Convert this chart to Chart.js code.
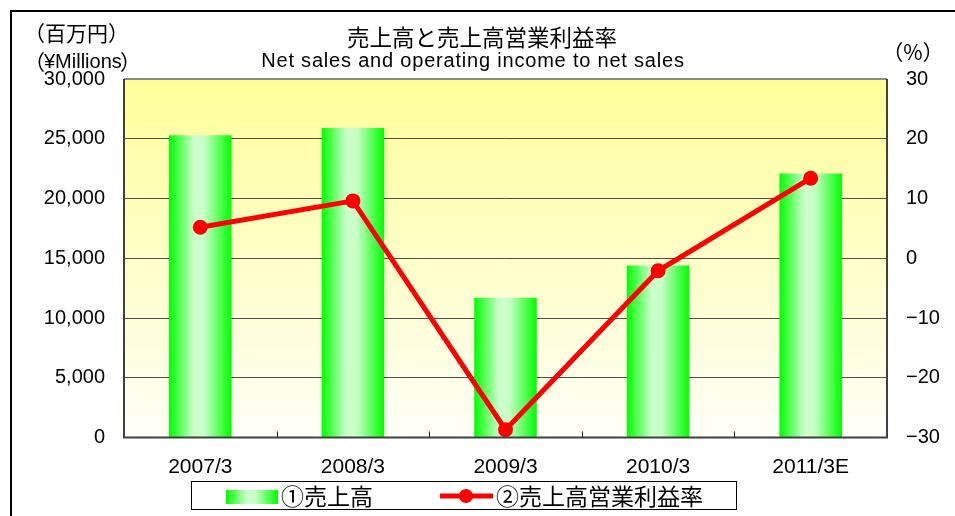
<!DOCTYPE html>
<html lang="ja">
<head>
<meta charset="utf-8">
<title>売上高と売上高営業利益率</title>
<script src="https://cdn.jsdelivr.net/npm/chart.js@4.4.1/dist/chart.umd.min.js"></script>
<style>
  html, body { margin: 0; padding: 0; background: #fff; }
  #wrap { width: 955px; height: 516px; }
</style>
</head>
<body>
<div id="wrap"><canvas id="chart" width="955" height="516"></canvas></div>
<script>
/* 売上高と売上高営業利益率 (2007/3〜2011/3E) */
const categories = ["2007/3", "2008/3", "2009/3", "2010/3", "2011/3E"];
const netSales = [25300, 25900, 11700, 14400, 22100];        // 百万円
const operatingMargin = [5.2, 9.6, -28.7, -2.1, 13.4];      // %
const salesTicks = [0, 5000, 10000, 15000, 20000, 25000, 30000];
const marginTicks = [-30, -20, -10, 0, 10, 20, 30];

const LATIN = "'Liberation Sans', Arial, sans-serif";
const CJK = "'Noto Sans CJK JP', 'Liberation Sans', sans-serif";
const barShare = 0.41;

// 棒は左右が濃い緑、中央が淡い緑の横グラデーション
function greenGradient(ctx, x0, x1) {
  const g = ctx.createLinearGradient(x0, 0, x1, 0);
  g.addColorStop(0, "#00ff00");
  g.addColorStop(0.4, "#ccffcc");
  g.addColorStop(0.56, "#c8ffc8");
  g.addColorStop(1, "#00ff00");
  return g;
}

function barFill(c) {
  const chart = c.chart;
  const xs = chart.scales.x;
  if (!chart.chartArea || !xs || c.dataIndex == null) return "#00ff00";
  const cx = xs.getPixelForValue(c.dataIndex);
  const half = (xs.width / categories.length) * barShare / 2;
  return greenGradient(chart.ctx, cx - half, cx + half);
}

function minusSign(v) {
  return v < 0 ? "\u2212" + Math.abs(v) : String(v);
}

const decor = {
  id: "decor",
  beforeDraw(chart) {
    const { ctx, chartArea: a } = chart;
    const g = ctx.createLinearGradient(0, a.top, 0, a.bottom);
    g.addColorStop(0, "#ffff99");
    g.addColorStop(1, "#fffff8");
    ctx.save();
    ctx.fillStyle = g;
    ctx.fillRect(a.left, a.top, a.right - a.left, a.bottom - a.top);
    ctx.restore();
  },
  afterDraw(chart) {
    const { ctx, chartArea: a } = chart;
    const xs = chart.scales.x;
    ctx.save();

    // plot border
    ctx.lineWidth = 2;
    ctx.strokeStyle = "#8a8a8a";
    ctx.beginPath();
    ctx.moveTo(a.left, a.top);
    ctx.lineTo(a.right, a.top);
    ctx.stroke();
    ctx.strokeStyle = "#404040";
    ctx.beginPath();
    ctx.moveTo(a.left, a.top);
    ctx.lineTo(a.left, a.bottom);
    ctx.lineTo(a.right, a.bottom);
    ctx.lineTo(a.right, a.top);
    ctx.stroke();

    // category separators (inner ticks on x axis)
    ctx.lineWidth = 1;
    ctx.strokeStyle = "#222";
    for (let i = 1; i < categories.length; i++) {
      const x = Math.round((xs.getPixelForValue(i - 1) + xs.getPixelForValue(i)) / 2) + 0.5;
      ctx.beginPath();
      ctx.moveTo(x, a.bottom);
      ctx.lineTo(x, a.bottom - 6);
      ctx.stroke();
    }

    // titles
    ctx.fillStyle = "#000";
    ctx.textBaseline = "middle";
    ctx.textAlign = "center";
    ctx.font = "22.5px " + CJK;
    ctx.fillText("売上高と売上高営業利益率", 482, 37);
    ctx.font = "20px " + LATIN;
    ctx.letterSpacing = "0.8px";
    ctx.fillText("Net sales and operating income to net sales", 473, 61);
    ctx.letterSpacing = "0px";

    // axis units
    ctx.textAlign = "left";
    ctx.font = "21px " + CJK;
    ctx.fillText("（百万円）", 24, 33);
    ctx.fillText("（", 24, 62);
    ctx.fillText("）", 120, 62);
    ctx.font = "20px " + LATIN;
    ctx.fillText("¥Millions", 44, 62);
    ctx.font = "21px " + CJK;
    ctx.textAlign = "center";
    ctx.fillText("（%）", 913, 52);

    // legend
    ctx.lineWidth = 1;
    ctx.strokeStyle = "#000";
    ctx.strokeRect(191.5, 481.5, 545, 28);
    ctx.fillStyle = greenGradient(ctx, 226, 278);
    ctx.fillRect(226, 490, 52, 14);
    ctx.fillStyle = "#000";
    ctx.textAlign = "left";
    ctx.font = "23px " + CJK;
    ctx.fillText(chart.data.datasets[0].label, 281, 496);
    ctx.strokeStyle = "#ff0000";
    ctx.lineWidth = 5;
    ctx.beginPath();
    ctx.moveTo(440, 496);
    ctx.lineTo(493, 496);
    ctx.stroke();
    ctx.fillStyle = "#ff0000";
    ctx.beginPath();
    ctx.arc(466, 496, 7, 0, Math.PI * 2);
    ctx.fill();
    ctx.fillStyle = "#000";
    ctx.fillText(chart.data.datasets[1].label, 496, 496);

    // outer frame
    ctx.lineWidth = 2;
    ctx.strokeStyle = "#000";
    ctx.strokeRect(11, 11, 1000, 1000);
    ctx.restore();
  }
};

new Chart(document.getElementById("chart"), {
  data: {
    labels: categories,
    datasets: [
      {
        type: "bar",
        label: "①売上高",
        data: netSales,
        yAxisID: "y",
        backgroundColor: barFill,
        borderWidth: 0,
        barPercentage: barShare,
        categoryPercentage: 1,
        order: 1,
      },
      {
        type: "line",
        label: "②売上高営業利益率",
        data: operatingMargin,
        yAxisID: "y1",
        borderColor: "#ff0000",
        backgroundColor: "#ff0000",
        borderWidth: 5,
        pointRadius: 7.5,
        pointHoverRadius: 7.5,
        pointBorderWidth: 0,
        tension: 0,
        clip: false,
        order: 0,
      },
    ],
  },
  options: {
    responsive: false,
    animation: false,
    devicePixelRatio: 1,
    layout: { padding: { top: 79, left: 0, right: 0, bottom: 0 } },
    plugins: { legend: { display: false }, tooltip: { enabled: false } },
    scales: {
      x: {
        offset: true,
        grid: { display: false, drawTicks: false },
        border: { display: false },
        ticks: { color: "#000", font: { family: LATIN, size: 21 }, padding: 17, maxRotation: 0 },
        afterFit: (s) => { s.height = 78.5; },
      },
      y: {
        position: "left",
        min: 0,
        max: 30000,
        afterBuildTicks: (s) => { s.ticks = salesTicks.map((v) => ({ value: v })); },
        grid: { color: "#4d4d4d", lineWidth: 1, drawTicks: false },
        border: { display: false },
        ticks: { color: "#000", font: { family: LATIN, size: 20 }, padding: 19, callback: (v) => v.toLocaleString("en-US") },
        afterFit: (s) => { s.width = 124; },
      },
      y1: {
        position: "right",
        min: -30,
        max: 30,
        afterBuildTicks: (s) => { s.ticks = marginTicks.map((v) => ({ value: v })); },
        grid: { drawOnChartArea: false, drawTicks: false },
        border: { display: false },
        ticks: { color: "#000", font: { family: LATIN, size: 20 }, padding: 19, callback: minusSign },
        afterFit: (s) => { s.width = 68; },
      },
    },
  },
  plugins: [decor],
});
</script>
</body>
</html>
